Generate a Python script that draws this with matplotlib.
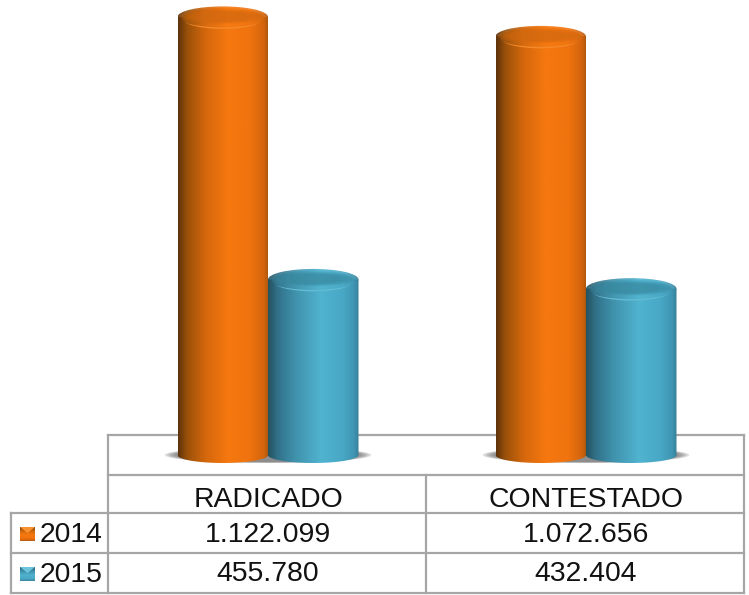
# Cylinder bar chart with data table under it
import numpy as np
import matplotlib
matplotlib.use("Agg")
import matplotlib.pyplot as plt
from matplotlib.colors import LinearSegmentedColormap
from matplotlib.patches import Ellipse, PathPatch, Polygon
from matplotlib.path import Path

plt.rcParams["font.family"] = ["Liberation Sans", "DejaVu Sans"]

# Data ---------------------------------------------------->
categories = ["RADICADO", "CONTESTADO"]
years = ["2014", "2015"]
values_2014 = [1122099, 1072656]
values_2015 = [455780, 432404]

# Colours (left to right across a cylinder)
orange_stops = [(0, "#5f330c"), (0.1, "#9a5109"), (0.3, "#d4670c"), (0.55, "#f6780f"),
                (0.8, "#ef730f"), (0.95, "#d2640c"), (1, "#a8560e")]
teal_stops = [(0, "#25525f"), (0.1, "#317088"), (0.3, "#4092ac"), (0.58, "#50b3cf"),
              (0.82, "#48a8c6"), (0.95, "#3f96b2"), (1, "#387f98")]
orange_cap = ("#e06e10", "#d3690f", "#f58a2a")
teal_cap = ("#3d97b3", "#38899f", "#62bbd3")
grid_color = "#a6a6a6"

fig = plt.figure(figsize=(7.49, 5.95), dpi=100)
W, H = 749, 595

# Chart axes: x holds the categories, y holds the values
base_px = 459
px_y = 1165000 / base_px  # value units for one pixel
ax = fig.add_axes([109 / W, (H - 475) / H, (745 - 109) / W, 475 / H])
ax.set_xlim(-0.5, 1.5)
ax.set_ylim(-16 * px_y, 1165000)
ax.axis("off")
ax.patch.set_alpha(0)
ax.set_autoscale_on(False)

bar_width = 90.5 / 318


def cylinder(xc, value, stops, cap):
    x0, x1 = xc - bar_width / 2, xc + bar_width / 2
    low = 4 * px_y
    t = np.linspace(0, np.pi, 60)
    # body: straight sides, round bottom
    bx = xc - np.cos(t) * bar_width / 2
    by = low - np.sin(t) * 8 * px_y
    pts = [(x0, value)] + list(zip(bx, by)) + [(x1, value), (x0, value)]
    clip = PathPatch(Path(pts), transform=ax.transData, fc="none", ec="none")
    ax.add_patch(clip)
    cmap = LinearSegmentedColormap.from_list("cyl", stops)
    im = ax.imshow(np.linspace(0, 1, 200).reshape(1, -1), cmap=cmap, aspect="auto",
                   extent=[x0, x1, -10 * px_y, value], zorder=3)
    im.set_clip_path(clip)
    # top cap: soft light lip at the front, shaded rim, darker middle
    ax.add_patch(Ellipse((xc, value - 1.5 * px_y), bar_width * 0.9, 21 * px_y, fc=cap[2], ec="none", zorder=4))
    rim = Ellipse((xc, value), bar_width, 21 * px_y, fc="none", ec="none", zorder=4)
    ax.add_patch(rim)
    im2 = ax.imshow(np.linspace(0.18, 0.72, 200).reshape(1, -1), cmap=cmap, aspect="auto",
                    extent=[x0, x1, value - 12 * px_y, value + 12 * px_y], zorder=4, alpha=0.9)
    im2.set_clip_path(rim)
    for k in np.linspace(0.96, 0.6, 7):
        ax.add_patch(Ellipse((xc, value + 0.5 * px_y), bar_width * k, 15 * px_y * k, fc=cap[1],
                             alpha=0.16, ec="none", zorder=5))


def shadow(xc):
    # soft grey ellipse on the floor
    for k in np.linspace(1, 0.88, 7):
        ax.add_patch(Ellipse((xc, 4 * px_y), 207 / 318 * k, 16 * px_y * k, fc="#606060",
                             alpha=0.16, ec="none", zorder=2))


for i in range(len(categories)):
    shadow(i)
    cylinder(i - bar_width / 2, values_2014[i], orange_stops, orange_cap)
    cylinder(i + bar_width / 2, values_2015[i], teal_stops, teal_cap)

# Table in pixel coordinates, behind the bars -------------->
tab = fig.add_axes([0, 0, 1, 1], zorder=-1)
tab.set_xlim(0, W)
tab.set_ylim(H, 0)
tab.axis("off")


def line(x, y):
    tab.plot(x, y, color=grid_color, lw=1.6, solid_capstyle="projecting")


line([108, 744], [435, 435])
line([108, 744], [475, 475])
line([11, 744], [513, 513])
line([11, 744], [553, 553])
line([11, 744], [593, 593])
line([11, 11], [513, 593])
line([108, 108], [435, 593])
line([426, 426], [475, 593])
line([744, 744], [435, 593])


def fmt(v):
    return f"{v:,}".replace(",", ".")


col_x = [268, 586]
font = 20.4
for i, cat in enumerate(categories):
    tab.text(col_x[i], 500, cat, ha="center", va="center", fontsize=font, color="#111111")
    tab.text(col_x[i], 535, fmt(values_2014[i]), ha="center", va="center", fontsize=font, color="#111111")
    tab.text(col_x[i], 574, fmt(values_2015[i]), ha="center", va="center", fontsize=font, color="#111111")

# Legend keys with small bevel
key_y = [534, 574]
key_stops = [orange_stops, teal_stops]
key_light = ["#f9922e", "#6cc5dc"]
for name, ky, st, light in zip(years, key_y, key_stops, key_light):
    cmap = LinearSegmentedColormap.from_list("key", st)
    tab.imshow(np.linspace(0.15, 0.75, 50).reshape(-1, 1), cmap=cmap, aspect="auto",
               extent=[20, 35, ky + 7, ky - 7], zorder=3)
    tab.add_patch(Polygon([(20, ky - 7), (35, ky - 7), (27.5, ky - 1)], fc=light, ec="none", zorder=4))
    tab.text(40, ky + 1, name, ha="left", va="center", fontsize=font, color="#111111")
tab.set_xlim(0, W)
tab.set_ylim(H, 0)

fig.savefig("out.png", dpi=100, facecolor="white")
